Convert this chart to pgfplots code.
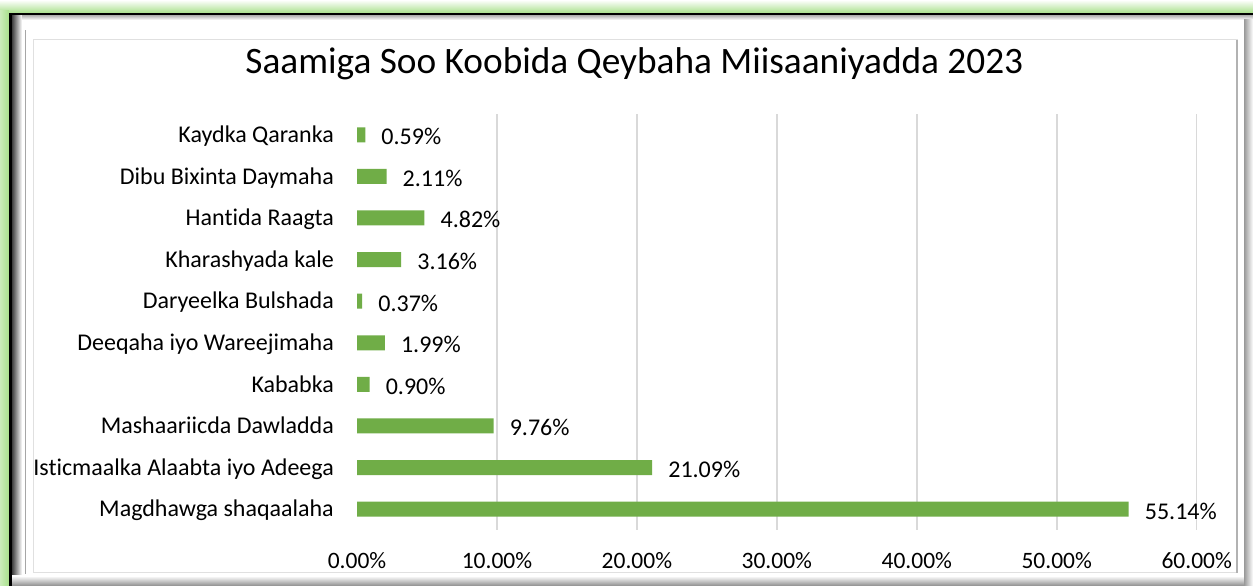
\documentclass[border=0pt]{standalone}
\usepackage{pgfplots}
\pgfplotsset{compat=1.18}
\usepackage{fontspec}
\setmainfont{Carlito}[Ligatures=NoCommon]
\definecolor{barGreen}{HTML}{70AD47}
\definecolor{gridGray}{HTML}{D9D9D9}
\definecolor{glow}{HTML}{A9E08C}
\begin{document}
\begin{tikzpicture}[x=1pt,y=1pt]
\path[use as bounding box] (0,0) rectangle (1253,586);
% frame decoration
\fill[white] (0,0) rectangle (1253,586);
\shade[top color=white, bottom color=glow] (0,573) rectangle (1253,586);
\shade[left color=glow!60!white, right color=glow] (0,0) rectangle (9,575);
\fill[black] (9,0) rectangle (1253,573);
\fill[white] (12,0) rectangle (1253,570);
\shade[left color=black!75, right color=white] (12,0) rectangle (22,570);
\shade[top color=black!25, bottom color=white] (22,566) rectangle (1253,570);
\draw[black!35, line width=1pt] (25,12) -- (25,556);
\shade[top color=white, bottom color=black!45] (12,0) rectangle (1253,10);
\shade[left color=black!40, right color=white] (1244,0) rectangle (1253,566);
\draw[black!12, line width=1pt] (33,13) rectangle (1237,546);
\draw[black!30, line width=1.5pt] (1237,13) -- (1237,546);
% title
\node[anchor=base, inner sep=0pt] at (634.4,512.5) {\fontsize{37.3}{44}\selectfont Saamiga Soo Koobida Qeybaha Miisaaniyadda 2023};
\begin{axis}[
  at={(357pt,56pt)}, anchor=south west,
  scale only axis, width=839.7pt, height=416pt,
  xbar, bar width=15pt,
  xmin=0, xmax=60, ymin=-0.5, ymax=9.5,
  clip=false,
  axis line style={draw=none},
  major tick length=0pt,
  ytick={0,...,9},
  yticklabels={Magdhawga shaqaalaha, Isticmaalka Alaabta iyo Adeega, Mashaariicda Dawladda, Kababka, Deeqaha iyo Wareejimaha, Daryeelka Bulshada, Kharashyada kale, Hantida Raagta, Dibu Bixinta Daymaha, Kaydka Qaranka},
  yticklabel style={anchor=base east, inner sep=0pt, xshift=-23pt, yshift=-7.7pt, font=\fontsize{24}{28}\selectfont},
  xtick={0,10,...,60},
  /pgf/number format/assume math mode=true,
  xticklabel={\pgfmathprintnumber[fixed,fixed zerofill,precision=2]{\tick}\%},
  xticklabel style={anchor=base, inner sep=0pt, yshift=-39pt, font=\fontsize{23.5}{28}\selectfont},
  extra x ticks={10,20,...,60},
  extra x tick style={grid=major, xticklabel={}},
  major grid style={draw=gridGray, line width=1.5pt},
  nodes near coords={\pgfmathprintnumber[fixed,fixed zerofill,precision=2]{\pgfplotspointmeta}\%},
  nodes near coords style={anchor=base west, inner sep=0pt, xshift=16pt, yshift=-10pt, font=\fontsize{24}{28}\selectfont, text=black},
  point meta=x,
]
\addplot[fill=barGreen, draw=none] coordinates {
  (55.14,0) (21.09,1) (9.76,2) (0.90,3) (1.99,4) (0.37,5) (3.16,6) (4.82,7) (2.11,8) (0.59,9)
};
\end{axis}
\end{tikzpicture}
\end{document}
